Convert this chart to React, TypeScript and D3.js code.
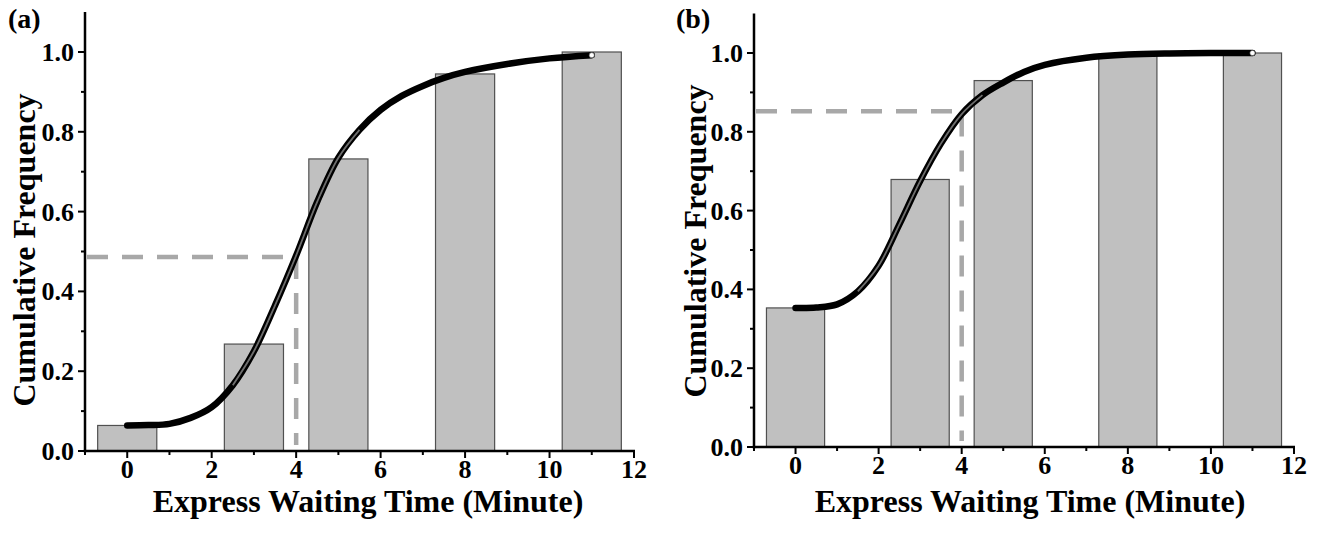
import React from "react";
import * as d3 from "d3";

// ---- data ----
const barCenters = [0, 3, 5, 8, 11];
const barsA = [0.064, 0.268, 0.732, 0.945, 1.0];
const barsB = [0.353, 0.679, 0.93, 0.997, 1.0];

const curveXA = [0, 0.5, 1, 1.5, 2, 2.5, 3, 3.5, 4, 4.5, 5, 5.5, 6, 6.5, 7, 7.5, 8, 9, 10, 11];
const curveYA = [0.064, 0.065, 0.068, 0.083, 0.11, 0.165, 0.25, 0.365, 0.49, 0.625, 0.735, 0.805, 0.855, 0.89, 0.915, 0.935, 0.95, 0.97, 0.984, 0.992];
const curveXB = [0, 0.5, 1, 1.5, 2, 2.5, 3, 3.5, 4, 4.5, 5, 5.5, 6, 7, 8, 9, 10, 11];
const curveYB = [0.353, 0.354, 0.362, 0.395, 0.46, 0.565, 0.675, 0.77, 0.845, 0.893, 0.925, 0.952, 0.97, 0.988, 0.996, 0.999, 1.0, 1.0];

const refA = { x: 4, y: 0.486 };
const refB = { x: 4, y: 0.852 };

const xMajor = [0, 2, 4, 6, 8, 10, 12];
const xMinor = [-1, 1, 3, 5, 7, 9, 11];
const yMajor = [0, 0.2, 0.4, 0.6, 0.8, 1.0];
const yMinor = [0.1, 0.3, 0.5, 0.7, 0.9];

const xLabel = "Express Waiting Time (Minute)";
const yLabel = "Cumulative Frequency";

const FONT = "'Liberation Serif', 'Times New Roman', serif";

type PanelProps = {
  tag: string;
  left: number;
  right: number;
  y0: number;
  y1: number;
  bars: number[];
  cx: number[];
  cy: number[];
  refPt: { x: number; y: number };
  tagX: number;
  yTitleX: number;
  yTitleY: number;
  xTitleX: number;
  hollow: [number, number];
};

function Panel(p: PanelProps) {
  const x = d3.scaleLinear().domain([-1, 12]).range([p.left, p.right]);
  const y = d3.scaleLinear().domain([0, 1]).range([p.y0, p.y1]);
  const yTop = y(1.1);
  const barW = 1.4;
  const pts: [number, number][] = p.cx.map((v, i) => [v, p.cy[i]]);
  const line = d3
    .line<[number, number]>()
    .x((d) => x(d[0]))
    .y((d) => y(d[1]))
    .curve(d3.curveCatmullRom.alpha(0.5));
  const inner = pts.filter((d) => d[0] >= p.hollow[0] && d[0] <= p.hollow[1]);
  const last = pts[pts.length - 1];
  const axisW = 2.5;
  return (
    <g>
      {p.bars.map((v, i) => (
        <rect
          key={i}
          x={x(barCenters[i] - barW / 2)}
          y={y(v)}
          width={x(barW) - x(0)}
          height={y(0) - y(v)}
          fill="#c0c0c0"
          stroke="#505050"
          strokeWidth={1.2}
        />
      ))}
      <path
        d={`M${x(-1) + 2},${y(p.refPt.y)} H${x(p.refPt.x)} V${y(0) - 6}`}
        fill="none"
        stroke="#a8a8a8"
        strokeWidth={4.5}
        strokeDasharray="21 14"
      />
      <path d={line(pts) || ""} fill="none" stroke="#000" strokeWidth={6.5} strokeLinecap="round" />
      <path d={line(inner) || ""} fill="none" stroke="#6e6e6e" strokeWidth={1.8} />
      <circle cx={x(last[0])} cy={y(last[1])} r={2.6} fill="#fff" stroke="#444" strokeWidth={0.6} />
      <line x1={x(-1)} x2={x(-1)} y1={yTop} y2={y(0) + axisW / 2} stroke="#000" strokeWidth={axisW} />
      <line x1={x(-1) - axisW / 2} x2={x(12) + 1} y1={y(0)} y2={y(0)} stroke="#000" strokeWidth={axisW} />
      {yMajor.map((v) => (
        <g key={"ym" + v}>
          <line x1={x(-1) - 7} x2={x(-1)} y1={y(v)} y2={y(v)} stroke="#000" strokeWidth={2} />
          <text
            x={x(-1) - 11}
            y={y(v) + 9}
            textAnchor="end"
            fontFamily={FONT}
            fontWeight="bold"
            fontSize={26}
          >
            {v.toFixed(1)}
          </text>
        </g>
      ))}
      {yMinor.map((v) => (
        <line key={"yn" + v} x1={x(-1) - 4} x2={x(-1)} y1={y(v)} y2={y(v)} stroke="#000" strokeWidth={2} />
      ))}
      {xMajor.map((v) => (
        <g key={"xm" + v}>
          <line x1={x(v)} x2={x(v)} y1={y(0)} y2={y(0) + 7} stroke="#000" strokeWidth={2} />
          <text
            x={x(v)}
            y={y(0) + 27}
            textAnchor="middle"
            fontFamily={FONT}
            fontWeight="bold"
            fontSize={26}
          >
            {v}
          </text>
        </g>
      ))}
      {xMinor.map((v) => (
        <line key={"xn" + v} x1={x(v)} x2={x(v)} y1={y(0)} y2={y(0) + 4} stroke="#000" strokeWidth={2} />
      ))}
      <text
        x={p.xTitleX}
        y={512}
        textAnchor="middle"
        fontFamily={FONT}
        fontWeight="bold"
        fontSize={32}
      >
        {xLabel}
      </text>
      <text
        transform={`translate(${p.yTitleX}, ${p.yTitleY}) rotate(-90)`}
        textAnchor="middle"
        fontFamily={FONT}
        fontWeight="bold"
        fontSize={32}
      >
        {yLabel}
      </text>
      <text x={p.tagX} y={28} fontFamily={FONT} fontWeight="bold" fontSize={28}>
        {p.tag}
      </text>
    </g>
  );
}

export default function App() {
  return (
    <svg
      width={1320}
      height={536}
      style={{ position: "absolute", left: 0, top: 0, background: "#fff" }}
    >
      <rect width={1320} height={536} fill="#fff" />
      <Panel
        tag="(a)"
        left={85}
        right={634}
        y0={451}
        y1={52}
        bars={barsA}
        cx={curveXA}
        cy={curveYA}
        refPt={refA}
        tagX={8}
        yTitleX={35}
        yTitleY={250}
        xTitleX={368}
        hollow={[2.5, 5.5]}
      />
      <Panel
        tag="(b)"
        left={754}
        right={1294}
        y0={447}
        y1={53}
        bars={barsB}
        cx={curveXB}
        cy={curveYB}
        refPt={refB}
        tagX={676}
        yTitleX={706}
        yTitleY={241}
        xTitleX={1030}
        hollow={[1.5, 4.5]}
      />
    </svg>
  );
}
